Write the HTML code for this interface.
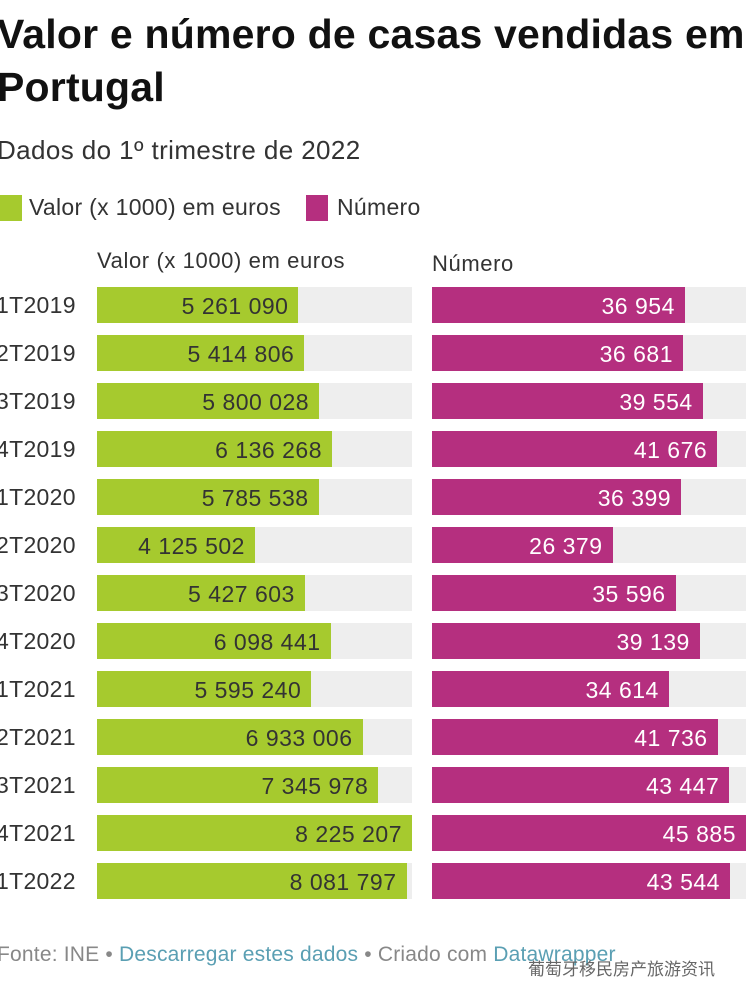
<!DOCTYPE html>
<html><head><meta charset="utf-8">
<style>
body{margin:0;width:750px;height:999px;background:#fff;overflow:hidden;font-family:"Liberation Sans","Noto Sans CJK SC",sans-serif;position:relative}
.t{position:absolute;white-space:nowrap}
#title{left:-3px;top:8px;font-size:41px;font-weight:bold;line-height:53px;color:#111;letter-spacing:0.2px}
#sub{left:-3px;top:135px;font-size:26px;color:#333;letter-spacing:0.4px}
.sw{position:absolute;width:22px;height:26px}
.lg{font-size:23px;color:#333;top:194px;letter-spacing:0.3px}
.hd{font-size:22px;color:#333;top:248px;letter-spacing:0.6px}
.rl{font-size:23px;color:#333;left:-4px;letter-spacing:0.3px}
.bg{position:absolute;background:#eeeeee;height:36px}
.bar{position:absolute;height:36px;box-sizing:border-box;font-size:23px;line-height:38px;text-align:right;padding-right:10px;white-space:nowrap;letter-spacing:0.5px}
#foot{left:-3px;top:943px;font-size:21px;color:#888;letter-spacing:0.2px}
#foot a{color:#5a9fb3;text-decoration:none}
#wm{left:528px;top:955px;font-size:17px;color:#666}
</style></head><body>
<div class="t" id="title">Valor e número de casas vendidas em<br>Portugal</div>
<div class="t" id="sub">Dados do 1º trimestre de 2022</div>
<div class="sw" style="left:0;top:195px;background:#a6ca2e"></div>
<div class="t lg" style="left:29px">Valor (x 1000) em euros</div>
<div class="sw" style="left:306px;top:195px;background:#b52f7f"></div>
<div class="t lg" style="left:337px">Número</div>
<div class="t hd" style="left:97px">Valor (x 1000) em euros</div>
<div class="t hd" style="left:432px;top:251px">Número</div>
<div id="chart"></div>
<div class="t" id="foot">Fonte: INE • <a>Descarregar estes dados</a> • Criado com <a>Datawrapper</a></div>
<div class="t" id="wm">葡萄牙移民房产旅游资讯</div>
<script>
const categories=["1T2019","2T2019","3T2019","4T2019","1T2020","2T2020","3T2020","4T2020","1T2021","2T2021","3T2021","4T2021","1T2022"];
const valor=[5261090,5414806,5800028,6136268,5785538,4125502,5427603,6098441,5595240,6933006,7345978,8225207,8081797];
const numero=[36954,36681,39554,41676,36399,26379,35596,39139,34614,41736,43447,45885,43544];
const fmt=v=>String(v).replace(/\B(?=(\d{3})+(?!\d))/g,' ');
const maxV=Math.max(...valor),maxN=Math.max(...numero);
const xV=v=>v/maxV*315, xN=v=>v/maxN*314;
const c=document.getElementById('chart');
categories.forEach((cat,i)=>{
  const y=287+i*48;
  const l=document.createElement('div');l.className='t rl';l.style.top=(y+5)+'px';l.textContent=cat;
  
  
  c.appendChild(l);
  [[97,315,xV(valor[i]),fmt(valor[i]),'#a6ca2e','#333','bar-valor'],[432,314,xN(numero[i]),fmt(numero[i]),'#b52f7f','#fff','bar-numero']].forEach(a=>{
    const bg=document.createElement('div');bg.className='bg';
    bg.style.cssText=`left:${a[0]}px;top:${y}px;width:${a[1]}px`;
    
    
    c.appendChild(bg);
    const b=document.createElement('div');b.className='bar';
    b.style.cssText=`left:${a[0]}px;top:${y}px;width:${a[2]}px;background:${a[4]};color:${a[5]}`;
    b.textContent=a[3];
    
    
    c.appendChild(b);
  });
});
</script>
</body></html>
